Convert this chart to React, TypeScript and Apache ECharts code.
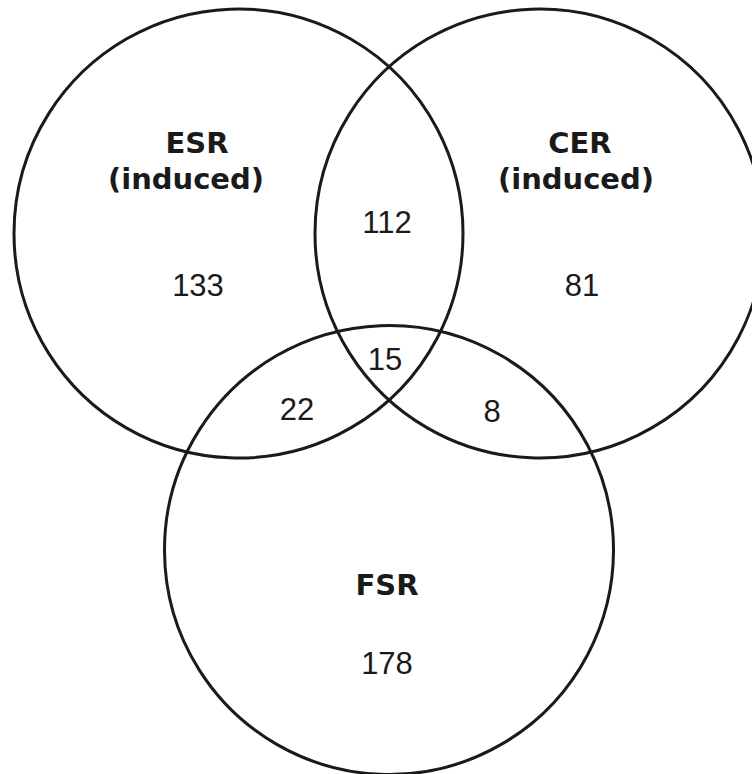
import React, { useEffect, useRef } from "react";
import * as echarts from "echarts";

// Venn circles (in picture units of a 752 x 774 plane)
const circleNames = ["ESR", "CER", "FSR"];
const circleCX = [238.5, 539.5, 389];
const circleCY = [233.5, 233.5, 550];
const circleR = [224.5, 224.5, 224.5];

// Set titles
const titleLines = ["ESR", "(induced)", "CER", "(induced)", "FSR"];
const titleX = [197, 186, 580, 576, 387];
const titleY = [143, 179, 143, 179, 585];

// Region counts
const regionNames = ["ESR only", "CER only", "FSR only", "ESR∩CER", "ESR∩FSR", "CER∩FSR", "ALL"];
const regionCounts = [133, 81, 178, 112, 22, 8, 15];
const regionX = [198, 582, 387, 387, 297, 492, 385];
const regionY = [285, 285, 663, 222, 409, 411, 359];

const INK = "#1a1a1a";

export default function App() {
  const ref = useRef<HTMLDivElement>(null);
  useEffect(() => {
    if (!ref.current) return;
    const chart = echarts.init(ref.current, undefined, { renderer: "svg" });
    const circleData = circleNames.map((n, i) => [circleCX[i], circleCY[i], circleR[i], n]);
    const titleData = titleLines.map((t, i) => [titleX[i], titleY[i], t]);
    const countData = regionCounts.map((c, i) => [regionX[i], regionY[i], c, regionNames[i]]);
    chart.setOption({
      animation: false,
      backgroundColor: "#ffffff",
      grid: { left: 0, right: 0, top: 0, bottom: 0 },
      xAxis: { type: "value", min: 0, max: 752, show: false },
      yAxis: { type: "value", min: 0, max: 774, inverse: true, show: false },
      series: [
        {
          type: "custom",
          name: "circles",
          clip: false,
          data: circleData,
          renderItem: (params: any, api: any) => {
            const c = api.coord([api.value(0), api.value(1)]);
            const s = api.size([api.value(2), api.value(2)]);
            return {
              type: "circle",
              shape: { cx: c[0], cy: c[1], r: Math.abs(s[0]) },
              style: { fill: "none", stroke: INK, lineWidth: 3 },
            };
          },
        },
        {
          type: "custom",
          name: "titles",
          clip: false,
          data: titleData,
          renderItem: (params: any, api: any) => {
            const c = api.coord([api.value(0), api.value(1)]);
            return {
              type: "text",
              style: {
                x: c[0],
                y: c[1],
                text: String(titleData[params.dataIndex][2]),
                fill: INK,
                font: 'bold 29px "DejaVu Sans", sans-serif',
                align: "center",
                verticalAlign: "middle",
              },
            };
          },
        },
        {
          type: "custom",
          name: "counts",
          clip: false,
          data: countData,
          renderItem: (params: any, api: any) => {
            const c = api.coord([api.value(0), api.value(1)]);
            return {
              type: "text",
              style: {
                x: c[0],
                y: c[1],
                text: String(api.value(2)),
                fill: INK,
                font: '31px "Liberation Sans", Arial, sans-serif',
                align: "center",
                verticalAlign: "middle",
              },
            };
          },
        },
      ],
    });
    return () => chart.dispose();
  }, []);
  return (
    <div
      ref={ref}
      style={{ position: "fixed", left: 0, top: 0, width: 752, height: 774, background: "#fff" }}
    />
  );
}
